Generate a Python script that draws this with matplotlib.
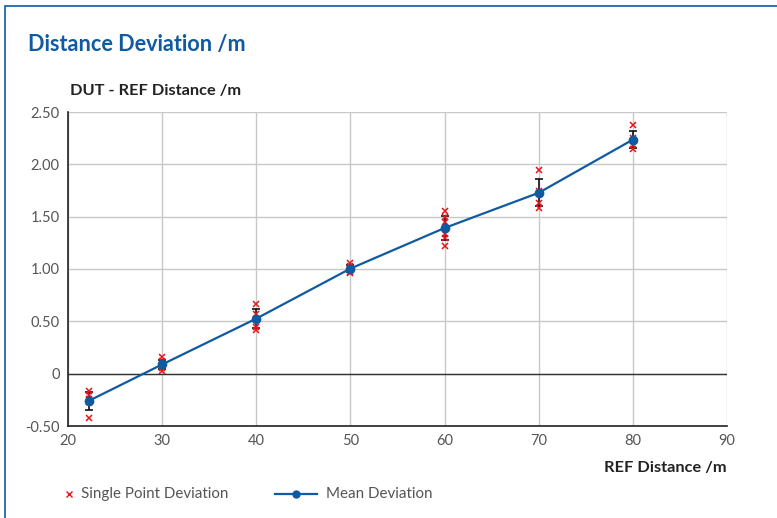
import numpy as np
import matplotlib
matplotlib.use('Agg')
import matplotlib.pyplot as plt
from matplotlib.patches import Rectangle

plt.rcParams['font.family'] = ['Lato', 'DejaVu Sans']

# reference distances and single measurements (m)
ref_dist = [22.2, 30, 40, 50, 60, 70, 80]
single_points = [
    [-0.17, -0.20, -0.24, -0.27, -0.42],
    [0.16, 0.12, 0.08, 0.05, 0.03],
    [0.67, 0.57, 0.52, 0.45, 0.42],
    [1.06, 1.03, 1.00, 0.97, 0.96],
    [1.55, 1.50, 1.45, 1.33, 1.30, 1.22],
    [1.95, 1.75, 1.73, 1.63, 1.58],
    [2.38, 2.25, 2.22, 2.18, 2.15],
]
y_ticks = [-0.5, 0, 0.5, 1.0, 1.5, 2.0, 2.5]
y_tick_labels = ['-0.50', '0', '0.50', '1.00', '1.50', '2.00', '2.50']
x_ticks = [20, 30, 40, 50, 60, 70, 80, 90]

blue = '#0f5aa0'
grey_text = '#555555'

means = [np.mean(p) for p in single_points]
stds = [np.std(p) for p in single_points]

fig = plt.figure(figsize=(7.77, 5.18), dpi=100)
ax = fig.add_axes([68 / 777, 92 / 518, 659 / 777, 314 / 518])

for x, pts in zip(ref_dist, single_points):
    ax.plot([x] * len(pts), pts, 'x', color='#e8141c', ms=5, mew=1.1, zorder=4)

ax.errorbar(ref_dist, means, yerr=stds, fmt='none', ecolor='#111111',
            elinewidth=1.2, capsize=3, capthick=1.2, zorder=3)
ax.plot(ref_dist, means, '-o', color=blue, lw=1.6, ms=6, zorder=5)

ax.set_xlim(20, 90)
ax.set_ylim(-0.5, 2.5)
ax.set_xticks(x_ticks)
ax.set_yticks(y_ticks)
ax.set_yticklabels(y_tick_labels)
ax.grid(True, color='#c8c8c8', lw=1.0)
ax.set_axisbelow(True)
ax.axhline(0, color='#333333', lw=1.0, zorder=2)
for s in ['top', 'right']:
    ax.spines[s].set_visible(False)
ax.spines['left'].set_color('#222222')
ax.spines['bottom'].set_color('#222222')
ax.spines['left'].set_linewidth(1.2)
ax.spines['bottom'].set_linewidth(1.2)
ax.tick_params(length=0, labelsize=10.5, colors=grey_text, pad=6)

fig.text(28 / 777, 1 - 45 / 518, 'Distance Deviation /m', color=blue,
         fontsize=15.6, fontweight='bold', va='center')
fig.text(70 / 777, 1 - 91 / 518, 'DUT - REF Distance /m', color='#222222',
         fontsize=11.8, fontweight='bold', va='center')
fig.text(727 / 777, 1 - 468 / 518, 'REF Distance /m', color='#222222',
         fontsize=11.8, fontweight='bold', va='center', ha='right')

# legend
fig.lines.append(plt.Line2D([69 / 777], [1 - 494 / 518], marker='x', color='#e8141c',
                            ms=4, mew=1.0, transform=fig.transFigure))
fig.text(81 / 777, 1 - 494 / 518, 'Single Point Deviation', color=grey_text,
         fontsize=10.9, va='center')
fig.lines.append(plt.Line2D([275 / 777, 317 / 777], [1 - 494 / 518] * 2, color=blue,
                            lw=1.6, transform=fig.transFigure))
fig.lines.append(plt.Line2D([296 / 777], [1 - 494 / 518], marker='o', color=blue,
                            ms=5, transform=fig.transFigure))
fig.text(326 / 777, 1 - 494 / 518, 'Mean Deviation', color=grey_text,
         fontsize=10.9, va='center')

fig.patches.append(Rectangle((5 / 777, -0.1), 1.2, 1 - 6 / 518 + 0.1, fill=False,
                             edgecolor=blue, lw=1.2, transform=fig.transFigure))

fig.savefig('out.png', dpi=100)
